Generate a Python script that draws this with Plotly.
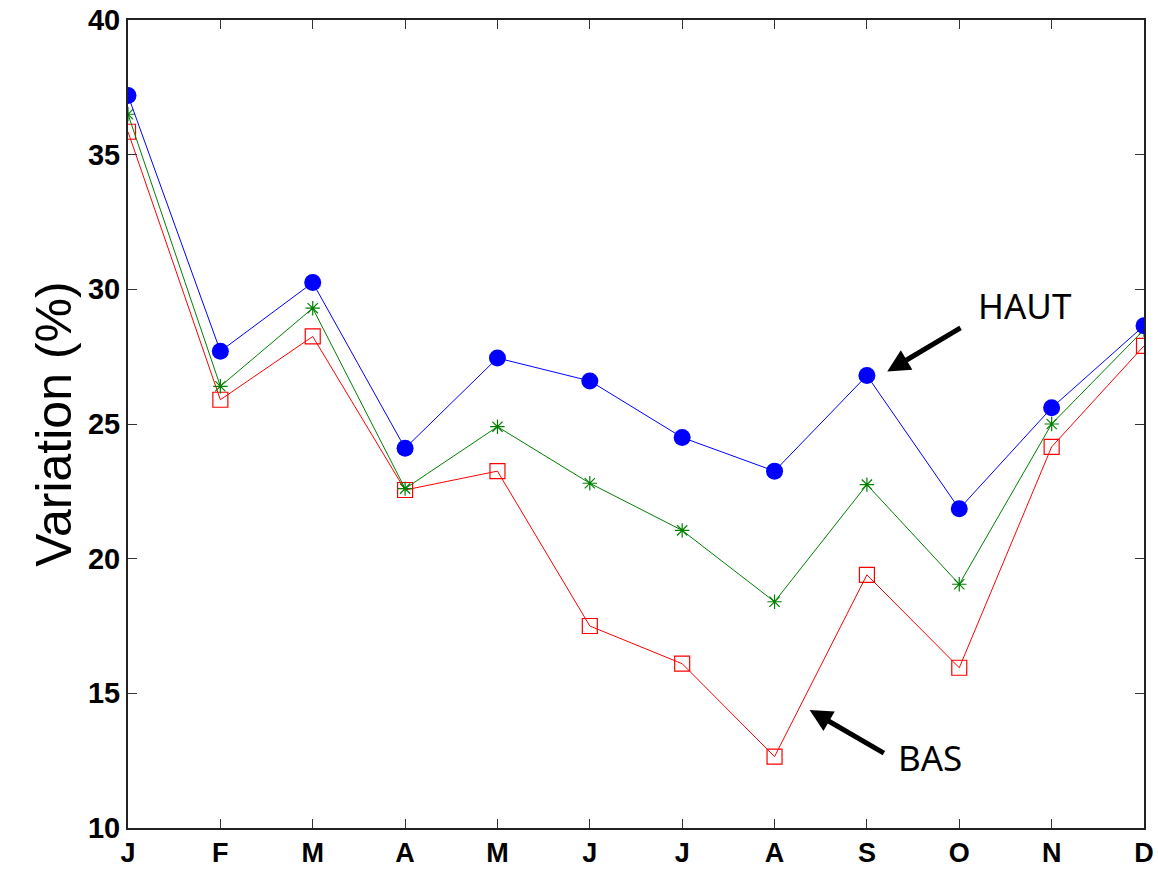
import plotly.graph_objects as go

months = ["J", "F", "M", "A", "M", "J", "J", "A", "S", "O", "N", "D"]
haut = [37.2, 27.7, 30.25, 24.1, 27.45, 26.6, 24.5, 23.25, 26.8, 21.85, 25.6, 28.65]
moyen = [36.5, 26.4, 29.3, 22.6, 24.9, 22.8, 21.05, 18.4, 22.75, 19.05, 25.0, 28.5]
bas = [35.85, 25.9, 28.25, 22.55, 23.25, 17.5, 16.1, 12.65, 19.4, 15.95, 24.15, 27.9]
y_ticks = [10, 15, 20, 25, 30, 35, 40]

x = list(range(len(months)))

fig = go.Figure()
fig.add_trace(go.Scatter(x=x, y=bas, mode="lines+markers",
                         line=dict(color="#ff0000", width=1),
                         marker=dict(symbol="square-open", size=15, color="#ff0000",
                                     line=dict(width=1.2, color="#ff0000"))))
fig.add_trace(go.Scatter(x=x, y=moyen, mode="lines+markers",
                         line=dict(color="#008000", width=1),
                         marker=dict(symbol="asterisk-open", size=12,
                                     line=dict(width=1.2, color="#008000"))))
fig.add_trace(go.Scatter(x=x, y=haut, mode="lines+markers",
                         line=dict(color="#0000ff", width=1),
                         marker=dict(symbol="circle", size=17, color="#0000ff")))

fig.add_annotation(x=8.22, y=26.95, ax=9.03, ay=28.6, axref="x", ayref="y",
                   xref="x", yref="y", text="", showarrow=True,
                   arrowhead=2, arrowsize=0.9, arrowwidth=5, arrowcolor="black")
fig.add_annotation(x=9.71, y=29.4, xref="x", yref="y", text="HAUT", showarrow=False,
                   font=dict(family="Noto Sans", size=35, color="black"))
fig.add_annotation(x=7.38, y=14.38, ax=8.2, ay=12.75, axref="x", ayref="y",
                   xref="x", yref="y", text="", showarrow=True,
                   arrowhead=2, arrowsize=0.9, arrowwidth=5, arrowcolor="black")
fig.add_annotation(x=8.68, y=12.6, xref="x", yref="y", text="BAS", showarrow=False,
                   font=dict(family="Noto Sans", size=35, color="black"))

fig.update_layout(
    width=1158, height=871,
    margin=dict(l=128, r=14, t=20, b=43),
    plot_bgcolor="white", paper_bgcolor="white",
    showlegend=False,
    font=dict(family="Liberation Sans, Arial", color="black"),
)
fig.update_xaxes(range=[0, 11], tickmode="array", tickvals=x, ticktext=[f"<b>{m}</b>" for m in months],
                 ticks="inside", ticklen=9, tickcolor="#333", mirror="ticks", automargin=False,
                 showline=True, linecolor="#222", linewidth=2, showgrid=False, zeroline=False,
                 tickfont=dict(size=27, family="Liberation Sans, Arial"))
fig.update_yaxes(range=[10, 40], tickmode="array", tickvals=y_ticks,
                 ticktext=[f"<b>{v}</b>" for v in y_ticks], automargin=False,
                 ticks="inside", ticklen=9, tickcolor="#333", mirror="ticks",
                 showline=True, linecolor="#222", linewidth=2, showgrid=False, zeroline=False,
                 tickfont=dict(size=29, family="Liberation Sans, Arial"),
                 title=dict(text="Variation (%)", font=dict(size=50, family="Liberation Sans, Arial"),
                            standoff=0))

fig.write_html("out.html")
